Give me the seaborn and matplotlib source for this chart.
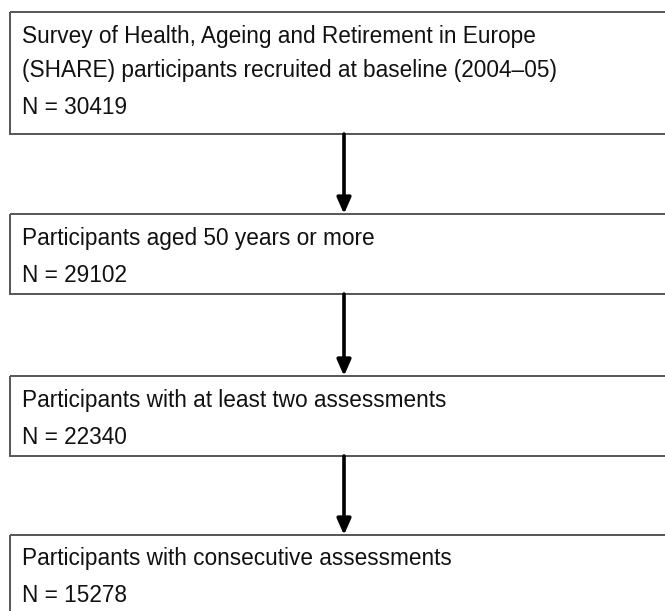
import matplotlib
matplotlib.use("Agg")
import matplotlib.pyplot as plt
import seaborn as sns
from matplotlib.patches import Rectangle

# flowchart contents
box_titles = [
    "Survey of Health, Ageing and Retirement in Europe\n(SHARE) participants recruited at baseline (2004\u201305)",
    "Participants aged 50 years or more",
    "Participants with at least two assessments",
    "Participants with consecutive assessments",
]
box_counts = [30419, 29102, 22340, 15278]

# layout in pixels (top, bottom) for each box
box_tops = [12, 214, 376, 535]
box_bottoms = [134, 294, 456, 640]

sns.set_theme(style="white")
plt.rcParams["font.family"] = ["Liberation Sans", "DejaVu Sans"]

fig = plt.figure(figsize=(6.65, 6.11), dpi=100)
ax = fig.add_axes([0, 0, 1, 1])
ax.set_xlim(0, 665)
ax.set_ylim(611, 0)
ax.axis("off")

left, right = 10, 672
text_x = 22
arrow_x = 344
line_h = 34
fs = 16.3

for i, (title, n) in enumerate(zip(box_titles, box_counts)):
    top, bot = box_tops[i], box_bottoms[i]
    ax.add_patch(Rectangle((left, top), right - left, bot - top,
                           fill=False, edgecolor="#555555", lw=1.4))
    lines = title.split("\n")
    y0 = top + 24
    for j, line in enumerate(lines):
        ax.text(text_x, y0 + j * line_h, line, fontsize=fs, va="center",
                ha="left", color="#111111")
    ax.text(text_x, y0 + (len(lines) - 1) * line_h + 37, f"N = {n}",
            fontsize=fs, va="center", ha="left", color="#111111")

    # arrow to next box
    if i < len(box_titles) - 1:
        ax.annotate("", xy=(arrow_x, box_tops[i + 1]), xytext=(arrow_x, bot),
                    arrowprops=dict(arrowstyle="-|>,head_length=0.8,head_width=0.35",
                                    color="black", lw=2.6, shrinkA=0, shrinkB=0))

fig.savefig("out.png", dpi=100)
